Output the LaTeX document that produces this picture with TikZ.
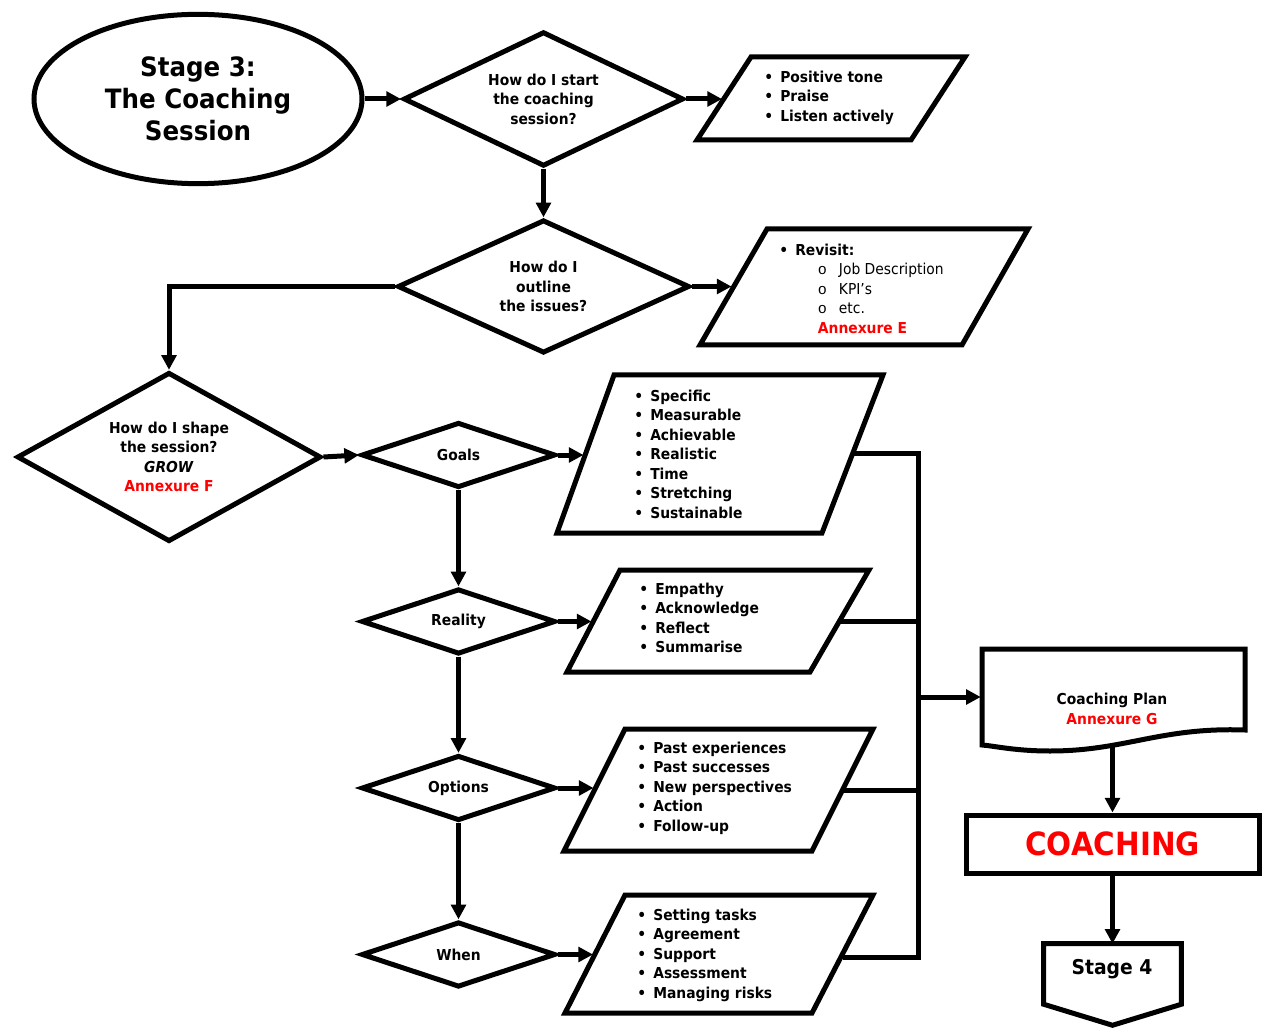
\documentclass[tikz,border=0pt]{standalone}
\usepackage{fontspec}
\setmainfont{DejaVu Sans}[FakeStretch=0.92]
\newfontfamily\monofont{Liberation Mono}
\usetikzlibrary{shapes.geometric,arrows.meta,calc}
\definecolor{annex}{RGB}{255,0,0}
% bullet and sub-bullet helpers for the lists
\newcommand\bul{\makebox[12pt][l]{\textbullet}}
\newcommand\subitm[1]{\hspace*{29pt}\makebox[15.75pt][l]{\mdseries\monofont o}{\mdseries #1}}

\begin{document}
\begin{tikzpicture}[x=0.75pt,y=-0.75pt,
  every node/.style={font=\bfseries\fontsize{11.3}{14.6}\selectfont},
  shp/.style={draw=black, line width=3.75pt, inner sep=0pt},
  dia/.style={shp, diamond, shape aspect=2, align=center},
  lst/.style={anchor=west, align=left, inner sep=0pt},
  conn/.style={line width=3.75pt},
  arr/.style={conn, -{Triangle[length=11pt,width=11pt]}},
  arrp/.style={arr, shorten >=1.5pt},
]
\useasboundingbox (0,0) rectangle (1267,1030);

% --- top row ---
\node[shp, ellipse, minimum width=246pt, minimum height=127pt, align=center,
      font=\bfseries\fontsize{20}{24}\selectfont] (stage3) at (198,99)
      {Stage 3:\\The Coaching\\Session};
\node[dia, minimum width=210pt, minimum height=101pt] (d1) at (543.5,99)
      {How do I start\\the coaching\\session?};
\draw[conn] (697,140) -- (751,57) -- (965,57) -- (911,140) -- cycle;
\coordinate (p1w) at (724,99);
\node[lst] (t1) at (764,97.5) {\bul Positive tone\\\bul Praise\\\bul Listen actively};

% --- second row ---
\node[dia, minimum width=219pt, minimum height=100pt] (d2) at (543.5,286.5)
      {How do I\\outline\\the issues?};
\draw[conn] (700,345) -- (767,229) -- (1028,229) -- (962,345) -- cycle;
\coordinate (p2w) at (733.5,286.5);
\node[lst] (t2) at (779,288.5) {\bul Revisit:\\\subitm{Job Description}\\\subitm{KPI’s}\\\subitm{etc.}\\\hspace*{29pt}\textcolor{annex}{Annexure E}};

% --- GROW block ---
\node[dia, minimum width=228pt, minimum height=127pt] (d3) at (169,457)
      {How do I shape\\the session?\\\textit{GROW}\\\textcolor{annex}{Annexure F}};

\node[dia, minimum width=145.5pt, minimum height=49pt] (goals) at (458.5,455) {Goals};
\draw[conn] (557,533) -- (614,375) -- (883,375) -- (822,533) -- cycle;
\coordinate (p3w) at (585.5,455);
\coordinate (p3e) at (852.5,453);
\node[lst] (t3) at (634,454) {\bul Specific\\\bul Measurable\\\bul Achievable\\\bul Realistic\\\bul Time\\\bul Stretching\\\bul Sustainable};

\node[dia, minimum width=145.5pt, minimum height=49pt] (reality) at (458.5,621.5) {Reality};
\draw[conn] (567,672) -- (620,570) -- (869,570) -- (810,672) -- cycle;
\coordinate (p4w) at (593.5,621.5);
\coordinate (p4e) at (839.5,621);
\node[lst] (t4) at (639,618) {\bul Empathy\\\bul Acknowledge\\\bul Reflect\\\bul Summarise};

\node[dia, minimum width=145.5pt, minimum height=49pt] (options) at (458.5,788) {Options};
\draw[conn] (564,851) -- (625,729) -- (873,729) -- (812,851) -- cycle;
\coordinate (p5w) at (595.5,788);
\coordinate (p5e) at (842.5,790);
\node[lst] (t5) at (637,788) {\bul Past experiences\\\bul Past successes\\\bul New perspectives\\\bul Action\\\bul Follow-up};

\node[dia, minimum width=145.5pt, minimum height=49pt] (when) at (458.5,954.5) {When};
\draw[conn] (565,1013) -- (625,895) -- (873,895) -- (812,1013) -- cycle;
\coordinate (p6w) at (595,954.5);
\coordinate (p6e) at (842.5,957);
\node[lst] (t6) at (637,955) {\bul Setting tasks\\\bul Agreement\\\bul Support\\\bul Assessment\\\bul Managing risks};

% --- right column ---
\node[minimum width=197.25pt, minimum height=72pt, inner sep=0pt] (cp) at (1112.5,697) {};
\draw[conn] (982,745) -- (982,649) -- (1245,649) -- (1245,730)
  .. controls (1160,727) and (1125,751) .. (1050,751)
  .. controls (1015,751) and (995,746) .. (982,745) -- cycle;
\node[align=center] (cpt) at (1112,709) {Coaching Plan\\\textcolor{annex}{Annexure G}};

\node[shp, minimum width=219.75pt, minimum height=43.5pt, text=annex,
      font=\bfseries\fontsize{24}{28}\selectfont] (coach) at (1112.5,844) {COACHING};

\node[minimum width=102.75pt, minimum height=45pt, inner sep=0pt] (s4) at (1112.5,974) {};
\draw[conn] (s4.south west) -- (s4.north west) -- (s4.north east) -- (s4.south east)
  -- ($(s4.south)+(0,21)$) -- cycle;
\node[font=\bfseries\fontsize{15.3}{18}\selectfont] (s4t) at (1112,969) {Stage 4};

% --- connectors ---
\draw[arr] (stage3.east) -- (d1.west);
\draw[arrp] (d1.east) -- (p1w);
\draw[arr] (d1.south) -- (d2.north);
\draw[arrp] (d2.east) -- (p2w);
\draw[arr] (d2.west) -| (d3.north);
\draw[arr] (d3.east) -- (goals.west);
\draw[arrp] (goals.east) -- (p3w);
\draw[arr] (goals.south) -- (reality.north);
\draw[arrp] (reality.east) -- (p4w);
\draw[arr] (reality.south) -- (options.north);
\draw[arrp] (options.east) -- (p5w);
\draw[arr] (options.south) -- (when.north);
\draw[arrp] (when.east) -- (p6w);

\coordinate (trunk) at (918,700);
\draw[conn] (p3e) -- (p3e -| trunk) -- (p6e -| trunk) -- (p6e);
\draw[conn] (p4e) -- (p4e -| trunk);
\draw[conn] (p5e) -- (p5e -| trunk);
\draw[arr] (cp.west -| trunk) -- (cp.west);
\draw[arr] (cp.south) -- (coach.north);
\draw[arr] (coach.south) -- (s4.north);
\end{tikzpicture}
\end{document}
